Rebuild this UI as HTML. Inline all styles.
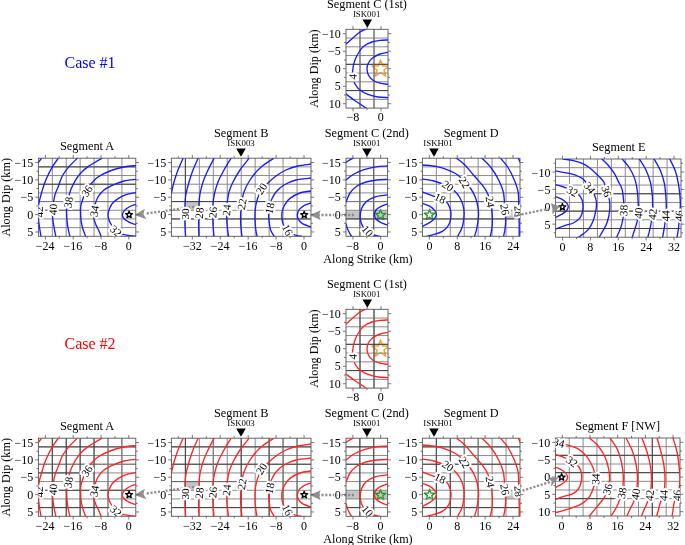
<!DOCTYPE html>
<html><head><meta charset="utf-8"><style>
html,body{margin:0;padding:0;background:#fff;}
svg{display:block;}
text{font-family:"Liberation Serif", serif;fill:#000;}
.tl{font-size:12px;paint-order:stroke;stroke:#fff;stroke-width:2.4px;stroke-linejoin:round;}
.tt{font-size:12.3px;}
.st{font-size:8.8px;}
.ax{font-size:12.2px;}
.case{font-size:16px;}
.cl{font-size:11.2px;paint-order:stroke;stroke:#fff;stroke-width:4.2px;stroke-linejoin:round;}
</style></head><body>
<svg width="685" height="545" viewBox="0 0 685 545">
<rect width="685" height="545" fill="#fff"/>
<path d="M194 206.8L146 213.6" stroke="#8f8f8f" stroke-width="2.3" stroke-dasharray="2.2 1.6" fill="none"/>
<path d="M134.6 215L144.8 208.8L143.4 213.9L146.4 219.2Z" fill="#8f8f8f"/>
<path d="M354 215H319" stroke="#8f8f8f" stroke-width="2.3" stroke-dasharray="2.2 1.6" fill="none"/>
<path d="M309.8 215.1L320.6 210.2L319 215.1L320.6 220Z" fill="#8f8f8f"/>
<path d="M194 486.8L146 493.6" stroke="#8f8f8f" stroke-width="2.3" stroke-dasharray="2.2 1.6" fill="none"/>
<path d="M134.6 495L144.8 488.8L143.4 493.9L146.4 499.2Z" fill="#8f8f8f"/>
<path d="M354 495H319" stroke="#8f8f8f" stroke-width="2.3" stroke-dasharray="2.2 1.6" fill="none"/>
<path d="M309.8 495.1L320.6 490.2L319 495.1L320.6 500Z" fill="#8f8f8f"/>
<clipPath id="cs0"><rect x="346" y="29.1" width="42" height="79"/></clipPath><g clip-path="url(#cs0)"><polygon points="380.5,59.9 382.62,65.99 389.06,66.12 383.92,70.01 385.79,76.18 380.5,72.5 375.21,76.18 377.08,70.01 371.94,66.12 378.38,65.99" fill="#fff" stroke="#f5a230" stroke-width="1.5" stroke-linejoin="round"/></g>
<path d="M360 29.3V108.1M374 29.3V108.1M346 38.06H388M346 46.81H388M346 55.57H388M346 64.32H388M346 73.08H388M346 81.83H388M346 90.59H388M346 99.34H388" stroke="#8a8a8a" stroke-width="1" fill="none"/>
<path d="M346 64.32H388" stroke="#404040" stroke-width="1"/>
<path d="M346 90.59H388" stroke="#404040" stroke-width="1"/>
<path d="M360 29.3V108.1" stroke="#666" stroke-width="1"/>
<path d="M374 29.3V108.1" stroke="#666" stroke-width="1"/>
<path d="M353 29.3v-3.2M353 108.1v3.2M367 29.3v-2M367 108.1v2M381 29.3v-3.2M381 108.1v3.2M346 33.68h-3.2M388 33.68h3.2M346 42.43h-2M388 42.43h2M346 51.19h-3.2M388 51.19h3.2M346 59.94h-2M388 59.94h2M346 68.7h-3.2M388 68.7h3.2M346 77.46h-2M388 77.46h2M346 86.21h-3.2M388 86.21h3.2M346 94.97h-2M388 94.97h2M346 103.72h-3.2M388 103.72h3.2" stroke="#555" stroke-width="0.8" fill="none"/>
<rect x="346" y="29.3" width="42" height="78.8" fill="none" stroke="#555" stroke-width="0.9"/>
<clipPath id="clipC10"><rect x="346" y="29.3" width="42" height="78.8"/></clipPath>
<g clip-path="url(#clipC10)">
<path d="M346 44C347.33 42.83 351.67 39 354 37C356.33 35 358 33.32 360 32C362 30.68 365 29.58 366 29.1M388 40C386.67 40.07 382.67 40.07 380 40.4C377.33 40.73 374.67 41.07 372 42C369.33 42.93 366.17 44.33 364 46C361.83 47.67 360.5 49.67 359 52C357.5 54.33 356 57.33 355 60C354 62.67 353.4 65.33 353 68C352.6 70.67 352.27 73.33 352.6 76C352.93 78.67 353.77 81.67 355 84C356.23 86.33 357.83 88.27 360 90C362.17 91.73 365 93.23 368 94.4C371 95.57 374.67 96.47 378 97C381.33 97.53 386.33 97.5 388 97.6M388 52.4C386.67 52.67 382.57 53.07 380 54C377.43 54.93 374.53 56.5 372.6 58C370.67 59.5 369.33 61.17 368.4 63C367.47 64.83 367 67 367 69C367 71 367.47 73.17 368.4 75C369.33 76.83 370.67 78.63 372.6 80C374.53 81.37 377.43 82.47 380 83.2C382.57 83.93 386.67 84.2 388 84.4M346 94C347.33 95 351.67 98.33 354 100C356.33 101.67 358 102.67 360 104C362 105.33 365 107.33 366 108" stroke="#1a1aff" stroke-width="1.35" fill="none" stroke-linecap="round"/>
<text class="cl" x="352.8" y="80.4" text-anchor="middle" transform="rotate(-85 352.8 76.6)">4</text>
</g>
<text x="352.88" y="120.7" text-anchor="middle" class="tl">−8</text>
<text x="380.8" y="120.7" text-anchor="middle" class="tl">0</text>
<text x="340.8" y="38.1" text-anchor="end" class="tl">−10</text>
<text x="340.8" y="55.45" text-anchor="end" class="tl">−5</text>
<text x="340.8" y="72.8" text-anchor="end" class="tl">0</text>
<text x="340.8" y="90.15" text-anchor="end" class="tl">5</text>
<text x="340.8" y="107.5" text-anchor="end" class="tl">10</text>
<text x="367" y="8" text-anchor="middle" class="tt">Segment C (1st)</text>
<text x="366.6" y="17.3" text-anchor="middle" class="st">ISK001</text>
<path d="M362.5 19.6h9.6l-4.8 8.1z" fill="#000"/>


<path d="M52.31 158.2V236.3M66.23 158.2V236.3M80.14 158.2V236.3M94.06 158.2V236.3M107.97 158.2V236.3M121.89 158.2V236.3M38.4 166.88H135.8M38.4 175.56H135.8M38.4 184.23H135.8M38.4 192.91H135.8M38.4 201.59H135.8M38.4 210.27H135.8M38.4 218.94H135.8M38.4 227.62H135.8" stroke="#8a8a8a" stroke-width="1" fill="none"/>
<path d="M38.4 166.88H135.8" stroke="#404040" stroke-width="1"/>
<path d="M38.4 184.23H135.8" stroke="#404040" stroke-width="1"/>
<path d="M38.4 201.59H135.8" stroke="#777" stroke-width="1"/>
<path d="M38.4 210.27H80" stroke="#666" stroke-width="1"/>
<path d="M45.36 158.2v-3.2M45.36 236.3v3.2M59.27 158.2v-2M59.27 236.3v2M73.19 158.2v-3.2M73.19 236.3v3.2M87.1 158.2v-2M87.1 236.3v2M101.01 158.2v-3.2M101.01 236.3v3.2M114.93 158.2v-2M114.93 236.3v2M128.84 158.2v-3.2M128.84 236.3v3.2M38.4 162.54h-3.2M135.8 162.54h3.2M38.4 171.22h-2M135.8 171.22h2M38.4 179.89h-3.2M135.8 179.89h3.2M38.4 188.57h-2M135.8 188.57h2M38.4 197.25h-3.2M135.8 197.25h3.2M38.4 205.93h-2M135.8 205.93h2M38.4 214.61h-3.2M135.8 214.61h3.2M38.4 223.28h-2M135.8 223.28h2M38.4 231.96h-3.2M135.8 231.96h3.2" stroke="#555" stroke-width="0.8" fill="none"/>
<rect x="38.4" y="158.2" width="97.4" height="78.1" fill="none" stroke="#555" stroke-width="0.9"/>
<clipPath id="clipA0"><rect x="38.4" y="158.2" width="97.4" height="78.1"/></clipPath>
<g clip-path="url(#clipA0)">
<path d="M135.8 204.4C135 204.67 132.63 205.23 131 206C129.37 206.77 127.33 207.92 126 209C124.67 210.08 123.6 211.5 123 212.5C122.4 213.5 122.33 214.08 122.4 215C122.47 215.92 122.63 217 123.4 218C124.17 219 125.57 220.1 127 221C128.43 221.9 130.53 222.8 132 223.4C133.47 224 135.17 224.4 135.8 224.6M135.8 192.6C134.17 192.93 128.97 193.6 126 194.6C123.03 195.6 120.33 197.03 118 198.6C115.67 200.17 113.5 202.1 112 204C110.5 205.9 109.67 208.17 109 210C108.33 211.83 108 213.33 108 215C108 216.67 108.5 218.5 109 220C109.5 221.5 110.17 222.67 111 224C111.83 225.33 112.83 226.67 114 228C115.17 229.33 116.5 230.93 118 232C119.5 233.07 121 233.8 123 234.4C125 235 127.83 235.28 130 235.6C132.17 235.92 135 236.18 136 236.3M135.8 179.4C133.83 179.67 127.63 180.13 124 181C120.37 181.87 117.33 183.1 114 184.6C110.67 186.1 106.67 187.93 104 190C101.33 192.07 99.5 194.5 98 197C96.5 199.5 95.67 202.17 95 205C94.33 207.83 94.17 211.67 94 214C93.83 216.33 93.67 217.17 94 219C94.33 220.83 95.17 223 96 225C96.83 227 98.17 229.12 99 231C99.83 232.88 100.67 235.42 101 236.3M135.8 165.6C133.83 165.83 128.3 166.1 124 167C119.7 167.9 114.33 169.33 110 171C105.67 172.67 101.33 174.67 98 177C94.67 179.33 92.1 182.5 90 185C87.9 187.5 86.55 189.78 85.4 192C84.25 194.22 83.87 195.97 83.1 198.3C82.33 200.63 81.22 203.72 80.8 206C80.38 208.28 80.57 209.7 80.6 212C80.63 214.3 80.67 217.13 81 219.8C81.33 222.47 81.83 225.25 82.6 228C83.37 230.75 85.1 234.92 85.6 236.3M102 158.2C100.67 159 96.33 161.6 94 163C91.67 164.4 90.23 164.9 88 166.6C85.77 168.3 82.65 171 80.6 173.2C78.55 175.4 77.22 177.33 75.7 179.8C74.18 182.27 72.53 185.67 71.5 188C70.47 190.33 70.15 191.47 69.5 193.8C68.85 196.13 68.08 199.3 67.6 202C67.12 204.7 66.7 207 66.6 210C66.5 213 66.77 217 67 220C67.23 223 67.52 225.28 68 228C68.48 230.72 69.58 234.92 69.9 236.3M77.3 158.3C75.92 159.68 71.48 163.7 69 166.6C66.52 169.5 64.18 172.4 62.4 175.7C60.62 179 59.53 183.23 58.3 186.4C57.07 189.57 55.78 192.1 55 194.7C54.22 197.3 53.97 199.45 53.6 202C53.23 204.55 52.97 207.5 52.8 210C52.63 212.5 52.4 214.17 52.6 217C52.8 219.83 53.47 223.78 54 227C54.53 230.22 55.5 234.75 55.8 236.3M58.3 158.3C57.33 159.68 54.57 163.02 52.5 166.6C50.43 170.18 47.82 175.12 45.9 179.8C43.98 184.48 42.17 190.78 41 194.7C39.83 198.62 39.4 200.58 38.9 203.3C38.4 206.02 38.07 208.38 38 211C37.93 213.62 38.23 216.17 38.5 219C38.77 221.83 39.18 225.12 39.6 228C40.02 230.88 40.77 234.92 41 236.3M38.5 162.4L41.4 158.3" stroke="#1a1aff" stroke-width="1.35" fill="none" stroke-linecap="round"/>
<text class="cl" x="116" y="234.8" text-anchor="middle" transform="rotate(40 116 231)">32</text>
<text class="cl" x="94.6" y="214.8" text-anchor="middle" transform="rotate(-80 94.6 211)">34</text>
<text class="cl" x="87" y="194.8" text-anchor="middle" transform="rotate(-55 87 191)">36</text>
<text class="cl" x="68.4" y="206.2" text-anchor="middle" transform="rotate(-80 68.4 202.4)">38</text>
<text class="cl" x="53.2" y="213.2" text-anchor="middle" transform="rotate(-88 53.2 209.4)">40</text>
<text class="cl" x="39.4" y="215.8" text-anchor="middle" transform="rotate(-90 39.4 212)">42</text>
</g>
<text x="45.04" y="250.4" text-anchor="middle" class="tl">−24</text>
<text x="72.96" y="250.4" text-anchor="middle" class="tl">−16</text>
<text x="100.88" y="250.4" text-anchor="middle" class="tl">−8</text>
<text x="128.8" y="250.4" text-anchor="middle" class="tl">0</text>
<text x="33.2" y="166.75" text-anchor="end" class="tl">−15</text>
<text x="33.2" y="184.1" text-anchor="end" class="tl">−10</text>
<text x="33.2" y="201.45" text-anchor="end" class="tl">−5</text>
<text x="33.2" y="218.8" text-anchor="end" class="tl">0</text>
<text x="33.2" y="236.15" text-anchor="end" class="tl">5</text>
<text x="87.1" y="150" text-anchor="middle" class="tt">Segment A</text>
<polygon points="129.1,211.1 129.98,213.49 132.52,213.59 130.53,215.16 131.22,217.61 129.1,216.2 126.98,217.61 127.67,215.16 125.68,213.59 128.22,213.49" fill="#fff" stroke="#000" stroke-width="1.35" stroke-linejoin="round"/>
<rect x="185.4" y="202" width="13.9" height="8.6" fill="#8a8a8a" fill-opacity="0.5"/>
<path d="M185.36 158.2V236.3M199.32 158.2V236.3M213.28 158.2V236.3M227.24 158.2V236.3M241.2 158.2V236.3M255.16 158.2V236.3M269.12 158.2V236.3M283.08 158.2V236.3M297.04 158.2V236.3M171.4 166.88H311M171.4 175.56H311M171.4 184.23H311M171.4 192.91H311M171.4 201.59H311M171.4 210.27H311M171.4 218.94H311M171.4 227.62H311" stroke="#8a8a8a" stroke-width="1" fill="none"/>
<path d="M185.36 158.4V202" stroke="#404040" stroke-width="1"/>
<path d="M171.4 201.59H265" stroke="#404040" stroke-width="1"/>
<path d="M171.4 218.94H311" stroke="#404040" stroke-width="1"/>
<path d="M178.38 158.2v-2M178.38 236.3v2M192.34 158.2v-3.2M192.34 236.3v3.2M206.3 158.2v-2M206.3 236.3v2M220.26 158.2v-3.2M220.26 236.3v3.2M234.22 158.2v-2M234.22 236.3v2M248.18 158.2v-3.2M248.18 236.3v3.2M262.14 158.2v-2M262.14 236.3v2M276.1 158.2v-3.2M276.1 236.3v3.2M290.06 158.2v-2M290.06 236.3v2M304.02 158.2v-3.2M304.02 236.3v3.2M171.4 162.54h-3.2M311 162.54h3.2M171.4 171.22h-2M311 171.22h2M171.4 179.89h-3.2M311 179.89h3.2M171.4 188.57h-2M311 188.57h2M171.4 197.25h-3.2M311 197.25h3.2M171.4 205.93h-2M311 205.93h2M171.4 214.61h-3.2M311 214.61h3.2M171.4 223.28h-2M311 223.28h2M171.4 231.96h-3.2M311 231.96h3.2" stroke="#555" stroke-width="0.8" fill="none"/>
<rect x="171.4" y="158.2" width="139.6" height="78.1" fill="none" stroke="#555" stroke-width="0.9"/>
<clipPath id="clipB0"><rect x="171.4" y="158.2" width="139.6" height="78.1"/></clipPath>
<g clip-path="url(#clipB0)">
<path d="M183 158.4C182.17 160.33 179.5 166.07 178 170C176.5 173.93 175.1 178.17 174 182C172.9 185.83 171.83 191.17 171.4 193M198 158.4C197.17 160.33 194.5 166.07 193 170C191.5 173.93 190.17 178 189 182C187.83 186 186.67 190.33 186 194C185.33 197.67 185.2 200.67 185 204C184.8 207.33 184.8 210.33 184.8 214C184.8 217.67 184.87 222.27 185 226C185.13 229.73 185.5 234.67 185.6 236.4M214 158.4C213 160.33 209.83 166.07 208 170C206.17 173.93 204.33 178 203 182C201.67 186 200.67 190.33 200 194C199.33 197.67 199.2 200.83 199 204C198.8 207.17 198.87 209.67 198.8 213C198.73 216.33 198.57 220.1 198.6 224C198.63 227.9 198.93 234.33 199 236.4M231 158.4C229.83 160.33 226.17 166.07 224 170C221.83 173.93 219.6 178 218 182C216.4 186 215.23 190.33 214.4 194C213.57 197.67 213.27 200.93 213 204C212.73 207.07 212.8 209.07 212.8 212.4C212.8 215.73 212.8 220 213 224C213.2 228 213.83 234.33 214 236.4M249 158.4C247.5 160.33 242.67 166.07 240 170C237.33 173.93 234.83 178.33 233 182C231.17 185.67 229.93 188.67 229 192C228.07 195.33 227.77 199 227.4 202C227.03 205 226.87 206.33 226.8 210C226.73 213.67 226.7 219.6 227 224C227.3 228.4 228.33 234.33 228.6 236.4M273.5 158.4C271.25 160 263.92 164.4 260 168C256.08 171.6 252.67 176 250 180C247.33 184 245.43 188 244 192C242.57 196 241.97 200 241.4 204C240.83 208 240.67 212 240.6 216C240.53 220 240.77 224.6 241 228C241.23 231.4 241.83 235 242 236.4M311 164C308.83 164.33 302.17 165 298 166C293.83 167 289.67 168.33 286 170C282.33 171.67 279.17 173.67 276 176C272.83 178.33 269.5 181.5 267 184C264.5 186.5 262.6 188.5 261 191C259.4 193.5 258.33 196.17 257.4 199C256.47 201.83 255.8 204.83 255.4 208C255 211.17 254.97 214.67 255 218C255.03 221.33 255.27 224.93 255.6 228C255.93 231.07 256.77 235 257 236.4M311 178C308.5 178.33 300.5 178.83 296 180C291.5 181.17 287.33 183 284 185C280.67 187 278.1 189.5 276 192C273.9 194.5 272.53 197.33 271.4 200C270.27 202.67 269.67 205.33 269.2 208C268.73 210.67 268.6 213.67 268.6 216C268.6 218.33 268.88 219.72 269.2 222C269.52 224.28 269.67 227.3 270.5 229.7C271.33 232.1 273.58 235.28 274.2 236.4M311 191C309.17 191.33 303.5 191.77 300 193C296.5 194.23 292.5 196.5 290 198.4C287.5 200.3 286.27 202.37 285 204.4C283.73 206.43 282.93 208.67 282.4 210.6C281.87 212.53 281.77 214.03 281.8 216C281.83 217.97 281.97 220.3 282.6 222.4C283.23 224.5 284.3 226.87 285.6 228.6C286.9 230.33 288.67 231.67 290.4 232.8C292.13 233.93 294.07 234.8 296 235.4C297.93 236 301 236.23 302 236.4M311 203C309.83 203.43 305.93 204.53 304 205.6C302.07 206.67 300.5 207.9 299.4 209.4C298.3 210.9 297.57 212.93 297.4 214.6C297.23 216.27 297.57 217.9 298.4 219.4C299.23 220.9 300.3 222.33 302.4 223.6C304.5 224.87 309.57 226.43 311 227" stroke="#1a1aff" stroke-width="1.35" fill="none" stroke-linecap="round"/>
<text class="cl" x="185" y="217.8" text-anchor="middle" transform="rotate(-90 185 214)">30</text>
<text class="cl" x="199.4" y="216.8" text-anchor="middle" transform="rotate(-85 199.4 213)">28</text>
<text class="cl" x="213" y="216.2" text-anchor="middle" transform="rotate(-85 213 212.4)">26</text>
<text class="cl" x="226.6" y="213.8" text-anchor="middle" transform="rotate(-85 226.6 210)">24</text>
<text class="cl" x="242" y="207.8" text-anchor="middle" transform="rotate(-80 242 204)">22</text>
<text class="cl" x="261.6" y="192.6" text-anchor="middle" transform="rotate(-58 261.6 188.8)">20</text>
<text class="cl" x="269.8" y="212.1" text-anchor="middle" transform="rotate(-78 269.8 208.3)">18</text>
<text class="cl" x="287.4" y="233.8" text-anchor="middle" transform="rotate(62 287.4 230)">16</text>
</g>
<text x="192.32" y="250.4" text-anchor="middle" class="tl">−32</text>
<text x="220.24" y="250.4" text-anchor="middle" class="tl">−24</text>
<text x="248.16" y="250.4" text-anchor="middle" class="tl">−16</text>
<text x="276.08" y="250.4" text-anchor="middle" class="tl">−8</text>
<text x="304" y="250.4" text-anchor="middle" class="tl">0</text>
<text x="166.2" y="166.75" text-anchor="end" class="tl">−15</text>
<text x="166.2" y="184.1" text-anchor="end" class="tl">−10</text>
<text x="166.2" y="201.45" text-anchor="end" class="tl">−5</text>
<text x="166.2" y="218.8" text-anchor="end" class="tl">0</text>
<text x="166.2" y="236.15" text-anchor="end" class="tl">5</text>
<text x="241.2" y="137" text-anchor="middle" class="tt">Segment B</text>
<text x="241" y="146.3" text-anchor="middle" class="st">ISK003</text>
<path d="M236.2 148.6h9.6l-4.8 8.1z" fill="#000"/>
<polygon points="304.2,211.3 305.08,213.69 307.62,213.79 305.63,215.36 306.32,217.81 304.2,216.4 302.08,217.81 302.77,215.36 300.78,213.79 303.32,213.69" fill="#fff" stroke="#000" stroke-width="1.35" stroke-linejoin="round"/>
<rect x="346" y="210.3" width="13.9" height="8.7" fill="#8a8a8a" fill-opacity="0.5"/>
<rect x="373.8" y="210.3" width="13.8" height="8.7" fill="#8a8a8a" fill-opacity="0.5"/><polygon points="380.5,209.4 381.85,213.24 385.92,213.34 382.69,215.81 383.85,219.71 380.5,217.4 377.15,219.71 378.31,215.81 375.08,213.34 379.15,213.24" fill="none" stroke="#1e9a1e" stroke-width="1.3" stroke-linejoin="round"/>
<path d="M359.87 158.2V236.3M373.73 158.2V236.3M346 166.88H387.6M346 175.56H387.6M346 184.23H387.6M346 192.91H387.6M346 201.59H387.6M346 210.27H387.6M346 218.94H387.6M346 227.62H387.6" stroke="#8a8a8a" stroke-width="1" fill="none"/>
<path d="M359.87 158.2V236.3" stroke="#555" stroke-width="1"/>
<path d="M373.73 158.2V236.3" stroke="#555" stroke-width="1"/>
<path d="M346 218.94H387.6" stroke="#404040" stroke-width="1"/>
<path d="M346 201.59H387.6" stroke="#777" stroke-width="1"/>
<path d="M352.93 158.2v-3.2M352.93 236.3v3.2M366.8 158.2v-2M366.8 236.3v2M380.67 158.2v-3.2M380.67 236.3v3.2M346 162.54h-3.2M387.6 162.54h3.2M346 171.22h-2M387.6 171.22h2M346 179.89h-3.2M387.6 179.89h3.2M346 188.57h-2M387.6 188.57h2M346 197.25h-3.2M387.6 197.25h3.2M346 205.93h-2M387.6 205.93h2M346 214.61h-3.2M387.6 214.61h3.2M346 223.28h-2M387.6 223.28h2M346 231.96h-3.2M387.6 231.96h3.2" stroke="#555" stroke-width="0.8" fill="none"/>
<rect x="346" y="158.2" width="41.6" height="78.1" fill="none" stroke="#555" stroke-width="0.9"/>
<clipPath id="clipC20"><rect x="346" y="158.2" width="41.6" height="78.1"/></clipPath>
<g clip-path="url(#clipC20)">
<path d="M346 162.4C346.5 162.07 347.83 161.07 349 160.4C350.17 159.73 352.33 158.73 353 158.4M346 180C347.33 179 351 175.73 354 174C357 172.27 360.33 170.8 364 169.6C367.67 168.4 372.07 167.4 376 166.8C379.93 166.2 385.67 166.13 387.6 166M346 202C346.67 200.5 348.17 195.67 350 193C351.83 190.33 354.33 187.83 357 186C359.67 184.17 362.67 183 366 182C369.33 181 373.4 180.43 377 180C380.6 179.57 385.83 179.5 387.6 179.4M346 224C346.33 225 347.08 227.93 348 230C348.92 232.07 350.92 235.33 351.5 236.4M387.6 194.8C385.67 195.1 379.43 195.57 376 196.6C372.57 197.63 369.37 199.1 367 201C364.63 202.9 362.93 205.43 361.8 208C360.67 210.57 360.27 213.83 360.2 216.4C360.13 218.97 360.6 221.22 361.4 223.4C362.2 225.58 363.23 227.67 365 229.5C366.77 231.33 369.5 233.25 372 234.4C374.5 235.55 378.67 236.07 380 236.4M387.6 204C386.43 204.43 382.53 205.6 380.6 206.6C378.67 207.6 377.03 208.7 376 210C374.97 211.3 374.4 212.9 374.4 214.4C374.4 215.9 374.97 217.67 376 219C377.03 220.33 378.67 221.37 380.6 222.4C382.53 223.43 386.43 224.73 387.6 225.2" stroke="#1a1aff" stroke-width="1.35" fill="none" stroke-linecap="round"/>
<text class="cl" x="367.4" y="234.8" text-anchor="middle" transform="rotate(50 367.4 231)">10</text>
</g>
<text x="352.68" y="250.4" text-anchor="middle" class="tl">−8</text>
<text x="380.6" y="250.4" text-anchor="middle" class="tl">0</text>
<text x="340.8" y="166.75" text-anchor="end" class="tl">−15</text>
<text x="340.8" y="184.1" text-anchor="end" class="tl">−10</text>
<text x="340.8" y="201.45" text-anchor="end" class="tl">−5</text>
<text x="340.8" y="218.8" text-anchor="end" class="tl">0</text>
<text x="340.8" y="236.15" text-anchor="end" class="tl">5</text>
<text x="366.8" y="137" text-anchor="middle" class="tt">Segment C (2nd)</text>
<text x="366.6" y="146.3" text-anchor="middle" class="st">ISK001</text>
<path d="M362.2 148.6h9.6l-4.8 8.1z" fill="#000"/>

<rect x="506.1" y="210.3" width="13.9" height="8.7" fill="#8a8a8a" fill-opacity="0.5"/><polygon points="429.6,209.2 430.95,213.04 435.02,213.14 431.79,215.61 432.95,219.51 429.6,217.2 426.25,219.51 427.41,215.61 424.18,213.14 428.25,213.04" fill="#fff" stroke="#1e9a1e" stroke-width="1.3" stroke-linejoin="round"/>
<path d="M436.34 158.2V236.3M450.29 158.2V236.3M464.23 158.2V236.3M478.17 158.2V236.3M492.11 158.2V236.3M506.06 158.2V236.3M422.4 166.88H520M422.4 175.56H520M422.4 184.23H520M422.4 192.91H520M422.4 201.59H520M422.4 210.27H520M422.4 218.94H520M422.4 227.62H520" stroke="#8a8a8a" stroke-width="1" fill="none"/>
<path d="M422.4 218.94H514" stroke="#404040" stroke-width="1"/>
<path d="M446 201.59H520" stroke="#555" stroke-width="1"/>
<path d="M429.37 158.2v-3.2M429.37 236.3v3.2M443.31 158.2v-2M443.31 236.3v2M457.26 158.2v-3.2M457.26 236.3v3.2M471.2 158.2v-2M471.2 236.3v2M485.14 158.2v-3.2M485.14 236.3v3.2M499.09 158.2v-2M499.09 236.3v2M513.03 158.2v-3.2M513.03 236.3v3.2M422.4 162.54h-3.2M520 162.54h3.2M422.4 171.22h-2M520 171.22h2M422.4 179.89h-3.2M520 179.89h3.2M422.4 188.57h-2M520 188.57h2M422.4 197.25h-3.2M520 197.25h3.2M422.4 205.93h-2M520 205.93h2M422.4 214.61h-3.2M520 214.61h3.2M422.4 223.28h-2M520 223.28h2M422.4 231.96h-3.2M520 231.96h3.2" stroke="#555" stroke-width="0.8" fill="none"/>
<rect x="422.4" y="158.2" width="97.6" height="78.1" fill="none" stroke="#555" stroke-width="0.9"/>
<clipPath id="clipD0"><rect x="422.4" y="158.2" width="97.6" height="78.1"/></clipPath>
<g clip-path="url(#clipD0)">
<path d="M422.4 203.4C423.67 203.9 427.97 205.23 430 206.4C432.03 207.57 433.53 209.1 434.6 210.4C435.67 211.7 436.4 212.87 436.4 214.2C436.4 215.53 435.67 217.03 434.6 218.4C433.53 219.77 432.03 221.07 430 222.4C427.97 223.73 423.67 225.73 422.4 226.4M422.4 192C423.67 192.47 427.23 193.73 430 194.8C432.77 195.87 436.27 197.2 439 198.4C441.73 199.6 444.62 200.5 446.4 202C448.18 203.5 448.93 205.4 449.7 207.4C450.47 209.4 450.93 211.67 451 214C451.07 216.33 450.73 219.2 450.1 221.4C449.47 223.6 448.5 225.55 447.2 227.2C445.9 228.85 444.35 230.13 442.3 231.3C440.25 232.47 437.52 233.37 434.9 234.2C432.28 235.03 429.08 235.75 426.6 236.3C424.12 236.85 421.1 237.3 420 237.5M422.4 179C424.33 179.33 429.9 179.83 434 181C438.1 182.17 443.5 184.25 447 186C450.5 187.75 452.93 189.67 455 191.5C457.07 193.33 458.08 194.77 459.4 197C460.72 199.23 462.12 202.2 462.9 204.9C463.68 207.6 464.1 209.9 464.1 213.2C464.1 216.5 463.52 221.68 462.9 224.7C462.28 227.72 461.3 229.32 460.4 231.3C459.5 233.28 457.98 235.72 457.5 236.6M422.4 165C424.83 165.27 432.48 165.67 437 166.6C441.52 167.53 445.97 169.15 449.5 170.6C453.03 172.05 455.7 173.33 458.2 175.3C460.7 177.27 462.43 180.2 464.5 182.4C466.57 184.6 468.8 186.05 470.6 188.5C472.4 190.95 474.05 193.85 475.3 197.1C476.55 200.35 477.58 204.62 478.1 208C478.62 211.38 478.62 214.02 478.4 217.4C478.18 220.78 477.45 225.1 476.8 228.3C476.15 231.5 474.88 235.22 474.5 236.6M455 157.3C456.57 158.48 461.28 161.4 464.4 164.4C467.52 167.4 470.58 171.67 473.7 175.3C476.82 178.93 480.75 183.08 483.1 186.2C485.45 189.32 486.63 191.4 487.8 194C488.97 196.6 489.45 199.2 490.1 201.8C490.75 204.4 491.32 206.48 491.7 209.6C492.08 212.72 492.4 217.12 492.4 220.5C492.4 223.88 492.08 227.22 491.7 229.9C491.32 232.58 490.37 235.48 490.1 236.6M481.5 157.8C483.07 159.42 488.03 163.8 490.9 167.5C493.77 171.2 496.62 175.85 498.7 180C500.78 184.15 502.37 187.47 503.4 192.4C504.43 197.33 504.52 204.92 504.9 209.6C505.28 214.28 505.7 217.12 505.7 220.5C505.7 223.88 505.28 227.17 504.9 229.9C504.52 232.63 503.65 235.73 503.4 236.9M500.2 157.8C501.5 159.42 505.65 163.8 508 167.5C510.35 171.2 512.6 175.85 514.3 180C516 184.15 517.45 187.2 518.2 192.4C518.95 197.6 518.63 206 518.8 211.2C518.97 216.4 519.13 219.37 519.2 223.6C519.27 227.83 519.2 234.43 519.2 236.6M518.2 158.1L520.5 162.8" stroke="#1a1aff" stroke-width="1.35" fill="none" stroke-linecap="round"/>
<text class="cl" x="440.2" y="202.1" text-anchor="middle" transform="rotate(25 440.2 198.3)">18</text>
<text class="cl" x="448" y="189.8" text-anchor="middle" transform="rotate(35 448 186)">20</text>
<text class="cl" x="464.4" y="186.4" text-anchor="middle" transform="rotate(58 464.4 182.6)">22</text>
<text class="cl" x="490.1" y="205.6" text-anchor="middle" transform="rotate(80 490.1 201.8)">24</text>
<text class="cl" x="504.9" y="213.4" text-anchor="middle" transform="rotate(82 504.9 209.6)">26</text>
<text class="cl" x="518.4" y="215" text-anchor="middle" transform="rotate(85 518.4 211.2)">28</text>
</g>
<text x="429.4" y="250.4" text-anchor="middle" class="tl">0</text>
<text x="457.32" y="250.4" text-anchor="middle" class="tl">8</text>
<text x="485.24" y="250.4" text-anchor="middle" class="tl">16</text>
<text x="513.16" y="250.4" text-anchor="middle" class="tl">24</text>
<text x="417.2" y="166.75" text-anchor="end" class="tl">−15</text>
<text x="417.2" y="184.1" text-anchor="end" class="tl">−10</text>
<text x="417.2" y="201.45" text-anchor="end" class="tl">−5</text>
<text x="417.2" y="218.8" text-anchor="end" class="tl">0</text>
<text x="417.2" y="236.15" text-anchor="end" class="tl">5</text>
<text x="471.2" y="137" text-anchor="middle" class="tt">Segment D</text>
<text x="438" y="146.3" text-anchor="middle" class="st">ISKH01</text>
<path d="M429.2 148.6h9.6l-4.8 8.1z" fill="#000"/>


<path d="M569.53 159V237.2M583.47 159V237.2M597.4 159V237.2M611.33 159V237.2M625.27 159V237.2M639.2 159V237.2M653.13 159V237.2M667.07 159V237.2M555.6 167.69H681M555.6 176.38H681M555.6 185.07H681M555.6 193.76H681M555.6 202.44H681M555.6 211.13H681M555.6 219.82H681M555.6 228.51H681" stroke="#8a8a8a" stroke-width="1" fill="none"/>
<path d="M591 193.76H681" stroke="#404040" stroke-width="1"/>
<path d="M555.6 211.13H681" stroke="#404040" stroke-width="1"/>
<path d="M555.6 228.51H681" stroke="#404040" stroke-width="1"/>
<path d="M562.57 159v-3.2M562.57 237.2v3.2M576.5 159v-2M576.5 237.2v2M590.43 159v-3.2M590.43 237.2v3.2M604.37 159v-2M604.37 237.2v2M618.3 159v-3.2M618.3 237.2v3.2M632.23 159v-2M632.23 237.2v2M646.17 159v-3.2M646.17 237.2v3.2M660.1 159v-2M660.1 237.2v2M674.03 159v-3.2M674.03 237.2v3.2M555.6 163.34h-2M681 163.34h2M555.6 172.03h-3.2M681 172.03h3.2M555.6 180.72h-2M681 180.72h2M555.6 189.41h-3.2M681 189.41h3.2M555.6 198.1h-2M681 198.1h2M555.6 206.79h-3.2M681 206.79h3.2M555.6 215.48h-2M681 215.48h2M555.6 224.17h-3.2M681 224.17h3.2M555.6 232.86h-2M681 232.86h2" stroke="#555" stroke-width="0.8" fill="none"/>
<rect x="555.6" y="159" width="125.4" height="78.2" fill="none" stroke="#555" stroke-width="0.9"/>
<clipPath id="clipE0"><rect x="555.6" y="159" width="125.4" height="78.2"/></clipPath>
<g clip-path="url(#clipE0)">
<path d="M555.6 196.6C556.67 197.07 560.2 198.37 562 199.4C563.8 200.43 565.35 201.6 566.4 202.8C567.45 204 568.3 205.27 568.3 206.6C568.3 207.93 567.45 209.53 566.4 210.8C565.35 212.07 563.8 213.1 562 214.2C560.2 215.3 556.67 216.87 555.6 217.4M555.6 184.6C557.22 185.12 562.5 186.58 565.3 187.7C568.1 188.82 570.03 190.02 572.4 191.3C574.77 192.58 577.83 193.78 579.5 195.4C581.17 197.02 581.82 199.07 582.4 201C582.98 202.93 583.05 204.95 583 207C582.95 209.05 582.67 211.4 582.1 213.3C581.53 215.2 581.05 216.78 579.6 218.4C578.15 220.02 575.78 221.83 573.4 223C571.02 224.17 568.27 224.38 565.3 225.4C562.33 226.42 557.22 228.48 555.6 229.1M555.6 170.8C556.87 171.07 560.57 171.88 563.2 172.4C565.83 172.92 568.85 173.22 571.4 173.9C573.95 174.58 576.47 175.57 578.5 176.5C580.53 177.43 581.73 177.62 583.6 179.5C585.47 181.38 587.9 185.22 589.7 187.8C591.5 190.38 593.28 192.63 594.4 195C595.52 197.37 596.15 199.47 596.4 202C596.65 204.53 596.42 207.13 595.9 210.2C595.38 213.27 594.58 217.17 593.3 220.4C592.02 223.63 590.32 227.03 588.2 229.6C586.08 232.17 582.47 234.43 580.6 235.8C578.73 237.17 577.6 237.47 577 237.8M563.2 159C564.9 159.27 570.33 159.9 573.4 160.6C576.47 161.3 579.03 162.08 581.6 163.2C584.17 164.32 586.42 165.6 588.8 167.3C591.18 169 593.87 171.53 595.9 173.4C597.93 175.27 599.63 176.97 601 178.5C602.37 180.03 603.17 180.47 604.1 182.6C605.03 184.73 605.72 188.4 606.6 191.3C607.48 194.2 608.88 196.85 609.4 200C609.92 203.15 610.08 206.45 609.7 210.2C609.32 213.95 608.22 219.1 607.1 222.5C605.98 225.9 604.27 228.22 603 230.6C601.73 232.98 600.17 235.6 599.5 236.8C598.83 238 599.08 237.63 599 237.8M602 159.1C603.03 160.12 606.15 162.82 608.2 165.2C610.25 167.58 612.6 170.67 614.3 173.4C616 176.13 617.1 178.95 618.4 181.6C619.7 184.25 621.22 185.93 622.1 189.3C622.98 192.67 623.4 198.28 623.7 201.8C624 205.32 624.03 207.53 623.9 210.4C623.77 213.27 623.45 216.02 622.9 219C622.35 221.98 621.63 225.32 620.6 228.3C619.57 231.28 617.4 235.32 616.7 236.9C616 238.48 616.45 237.65 616.4 237.8M622.1 158.9C623.28 160.33 627.12 164.25 629.2 167.5C631.28 170.75 633.25 174.5 634.6 178.4C635.95 182.3 636.7 186.73 637.3 190.9C637.9 195.07 638 199.77 638.2 203.4C638.4 207.03 638.7 209.58 638.5 212.7C638.3 215.82 637.65 219.23 637 222.1C636.35 224.97 635.38 227.43 634.6 229.9C633.82 232.37 632.73 235.58 632.3 236.9C631.87 238.22 632.05 237.65 632 237.8M639.3 158.9C640.33 160.58 643.68 165.23 645.5 169C647.32 172.77 649.08 177.33 650.2 181.5C651.32 185.67 651.8 190.1 652.2 194C652.6 197.9 652.53 201.52 652.6 204.9C652.67 208.28 652.87 211.18 652.6 214.3C652.33 217.42 651.53 220.75 651 223.6C650.47 226.45 649.92 229.18 649.4 231.4C648.88 233.62 648.18 235.83 647.9 236.9C647.62 237.97 647.73 237.65 647.7 237.8M654.1 158.9C655.15 160.85 658.7 166.57 660.4 170.6C662.1 174.63 663.4 178.93 664.3 183.1C665.2 187.27 665.47 191.7 665.8 195.6C666.13 199.5 666.3 203.13 666.3 206.5C666.3 209.87 666.07 212.68 665.8 215.8C665.53 218.92 665.22 221.68 664.7 225.2C664.18 228.72 663.07 234.8 662.7 236.9C662.33 239 662.53 237.65 662.5 237.8M669.7 158.9C670.62 160.85 673.77 166.57 675.2 170.6C676.63 174.63 677.52 178.93 678.3 183.1C679.08 187.27 679.57 191.7 679.9 195.6C680.23 199.5 680.43 203.13 680.3 206.5C680.17 209.87 679.35 212.68 679.1 215.8C678.85 218.92 679.12 221.68 678.8 225.2C678.48 228.72 677.5 234.8 677.2 236.9C676.9 239 677.03 237.65 677 237.8" stroke="#1a1aff" stroke-width="1.35" fill="none" stroke-linecap="round"/>
<text class="cl" x="572.4" y="195.1" text-anchor="middle" transform="rotate(28 572.4 191.3)">32</text>
<text class="cl" x="589.7" y="191.6" text-anchor="middle" transform="rotate(52 589.7 187.8)">34</text>
<text class="cl" x="606.6" y="195.1" text-anchor="middle" transform="rotate(72 606.6 191.3)">36</text>
<text class="cl" x="623.7" y="214.2" text-anchor="middle" transform="rotate(-88 623.7 210.4)">38</text>
<text class="cl" x="638.5" y="217" text-anchor="middle" transform="rotate(-86 638.5 213.2)">40</text>
<text class="cl" x="652.6" y="218.1" text-anchor="middle" transform="rotate(-87 652.6 214.3)">42</text>
<text class="cl" x="665.8" y="219.6" text-anchor="middle" transform="rotate(-88 665.8 215.8)">44</text>
<text class="cl" x="679.1" y="219.6" text-anchor="middle" transform="rotate(-88 679.1 215.8)">46</text>
</g>
<text x="562.4" y="251.3" text-anchor="middle" class="tl">0</text>
<text x="590.32" y="251.3" text-anchor="middle" class="tl">8</text>
<text x="618.24" y="251.3" text-anchor="middle" class="tl">16</text>
<text x="646.16" y="251.3" text-anchor="middle" class="tl">24</text>
<text x="674.08" y="251.3" text-anchor="middle" class="tl">32</text>
<text x="550.4" y="176.5" text-anchor="end" class="tl">−10</text>
<text x="550.4" y="193.85" text-anchor="end" class="tl">−5</text>
<text x="550.4" y="211.2" text-anchor="end" class="tl">0</text>
<text x="550.4" y="228.55" text-anchor="end" class="tl">5</text>
<text x="618.8" y="150.6" text-anchor="middle" class="tt">Segment E</text>
<polygon points="562.4,203.5 563.28,205.89 565.82,205.99 563.83,207.56 564.52,210.01 562.4,208.6 560.28,210.01 560.97,207.56 558.98,205.99 561.52,205.89" fill="#fff" stroke="#000" stroke-width="1.35" stroke-linejoin="round"/>
<clipPath id="cs280"><rect x="346" y="309.1" width="42" height="79"/></clipPath><g clip-path="url(#cs280)"><polygon points="380.5,339.9 382.62,345.99 389.06,346.12 383.92,350.01 385.79,356.18 380.5,352.5 375.21,356.18 377.08,350.01 371.94,346.12 378.38,345.99" fill="#fff" stroke="#f5a230" stroke-width="1.5" stroke-linejoin="round"/></g>
<path d="M360 309.3V388.1M374 309.3V388.1M346 318.06H388M346 326.81H388M346 335.57H388M346 344.32H388M346 353.08H388M346 361.83H388M346 370.59H388M346 379.34H388" stroke="#8a8a8a" stroke-width="1" fill="none"/>
<path d="M346 344.32H388" stroke="#404040" stroke-width="1"/>
<path d="M346 370.59H388" stroke="#404040" stroke-width="1"/>
<path d="M360 309.3V388.1" stroke="#404040" stroke-width="1"/>
<path d="M374 309.3V388.1" stroke="#404040" stroke-width="1"/>
<path d="M353 309.3v-3.2M353 388.1v3.2M367 309.3v-2M367 388.1v2M381 309.3v-3.2M381 388.1v3.2M346 313.68h-3.2M388 313.68h3.2M346 322.43h-2M388 322.43h2M346 331.19h-3.2M388 331.19h3.2M346 339.94h-2M388 339.94h2M346 348.7h-3.2M388 348.7h3.2M346 357.46h-2M388 357.46h2M346 366.21h-3.2M388 366.21h3.2M346 374.97h-2M388 374.97h2M346 383.72h-3.2M388 383.72h3.2" stroke="#555" stroke-width="0.8" fill="none"/>
<rect x="346" y="309.3" width="42" height="78.8" fill="none" stroke="#555" stroke-width="0.9"/>
<clipPath id="clipC1280"><rect x="346" y="309.3" width="42" height="78.8"/></clipPath>
<g clip-path="url(#clipC1280)">
<path d="M346 324C347.33 322.83 351.67 319 354 317C356.33 315 358 313.32 360 312C362 310.68 365 309.58 366 309.1M388 320C386.67 320.07 382.67 320.07 380 320.4C377.33 320.73 374.67 321.07 372 322C369.33 322.93 366.17 324.33 364 326C361.83 327.67 360.5 329.67 359 332C357.5 334.33 356 337.33 355 340C354 342.67 353.4 345.33 353 348C352.6 350.67 352.27 353.33 352.6 356C352.93 358.67 353.77 361.67 355 364C356.23 366.33 357.83 368.27 360 370C362.17 371.73 365 373.23 368 374.4C371 375.57 374.67 376.47 378 377C381.33 377.53 386.33 377.5 388 377.6M388 332.4C386.67 332.67 382.57 333.07 380 334C377.43 334.93 374.53 336.5 372.6 338C370.67 339.5 369.33 341.17 368.4 343C367.47 344.83 367 347 367 349C367 351 367.47 353.17 368.4 355C369.33 356.83 370.67 358.63 372.6 360C374.53 361.37 377.43 362.47 380 363.2C382.57 363.93 386.67 364.2 388 364.4M346 374C347.33 375 351.67 378.33 354 380C356.33 381.67 358 382.67 360 384C362 385.33 365 387.33 366 388" stroke="#ff2424" stroke-width="1.35" fill="none" stroke-linecap="round"/>
<text class="cl" x="352.8" y="360.4" text-anchor="middle" transform="rotate(-85 352.8 356.6)">4</text>
</g>
<text x="352.88" y="400.7" text-anchor="middle" class="tl">−8</text>
<text x="380.8" y="400.7" text-anchor="middle" class="tl">0</text>
<text x="340.8" y="318.1" text-anchor="end" class="tl">−10</text>
<text x="340.8" y="335.45" text-anchor="end" class="tl">−5</text>
<text x="340.8" y="352.8" text-anchor="end" class="tl">0</text>
<text x="340.8" y="370.15" text-anchor="end" class="tl">5</text>
<text x="340.8" y="387.5" text-anchor="end" class="tl">10</text>
<text x="367" y="288" text-anchor="middle" class="tt">Segment C (1st)</text>
<text x="366.6" y="297.3" text-anchor="middle" class="st">ISK001</text>
<path d="M362.5 299.6h9.6l-4.8 8.1z" fill="#000"/>


<path d="M52.31 438.2V516.3M66.23 438.2V516.3M80.14 438.2V516.3M94.06 438.2V516.3M107.97 438.2V516.3M121.89 438.2V516.3M38.4 446.88H135.8M38.4 455.56H135.8M38.4 464.23H135.8M38.4 472.91H135.8M38.4 481.59H135.8M38.4 490.27H135.8M38.4 498.94H135.8M38.4 507.62H135.8" stroke="#8a8a8a" stroke-width="1" fill="none"/>
<path d="M38.4 446.88H135.8" stroke="#404040" stroke-width="1"/>
<path d="M38.4 464.23H135.8" stroke="#777" stroke-width="1"/>
<path d="M38.4 472.91H80" stroke="#404040" stroke-width="1"/>
<path d="M38.4 490.27H135.8" stroke="#404040" stroke-width="1"/>
<path d="M38.4 507.62H122" stroke="#404040" stroke-width="1"/>
<path d="M52.31 438.2V516.3" stroke="#404040" stroke-width="1"/>
<path d="M66.23 438.2V516.3" stroke="#404040" stroke-width="1"/>
<path d="M80.14 438.2V516.3" stroke="#404040" stroke-width="1"/>
<path d="M94.06 438.2V516.3" stroke="#404040" stroke-width="1"/>
<path d="M107.97 438.2V516.3" stroke="#777" stroke-width="1"/>
<path d="M121.89 438.2V516.3" stroke="#777" stroke-width="1"/>
<path d="M45.36 438.2v-3.2M45.36 516.3v3.2M59.27 438.2v-2M59.27 516.3v2M73.19 438.2v-3.2M73.19 516.3v3.2M87.1 438.2v-2M87.1 516.3v2M101.01 438.2v-3.2M101.01 516.3v3.2M114.93 438.2v-2M114.93 516.3v2M128.84 438.2v-3.2M128.84 516.3v3.2M38.4 442.54h-3.2M135.8 442.54h3.2M38.4 451.22h-2M135.8 451.22h2M38.4 459.89h-3.2M135.8 459.89h3.2M38.4 468.57h-2M135.8 468.57h2M38.4 477.25h-3.2M135.8 477.25h3.2M38.4 485.93h-2M135.8 485.93h2M38.4 494.61h-3.2M135.8 494.61h3.2M38.4 503.28h-2M135.8 503.28h2M38.4 511.96h-3.2M135.8 511.96h3.2" stroke="#555" stroke-width="0.8" fill="none"/>
<rect x="38.4" y="438.2" width="97.4" height="78.1" fill="none" stroke="#555" stroke-width="0.9"/>
<clipPath id="clipA280"><rect x="38.4" y="438.2" width="97.4" height="78.1"/></clipPath>
<g clip-path="url(#clipA280)">
<path d="M135.8 484.4C135 484.67 132.63 485.23 131 486C129.37 486.77 127.33 487.92 126 489C124.67 490.08 123.6 491.5 123 492.5C122.4 493.5 122.33 494.08 122.4 495C122.47 495.92 122.63 497 123.4 498C124.17 499 125.57 500.1 127 501C128.43 501.9 130.53 502.8 132 503.4C133.47 504 135.17 504.4 135.8 504.6M135.8 472.6C134.17 472.93 128.97 473.6 126 474.6C123.03 475.6 120.33 477.03 118 478.6C115.67 480.17 113.5 482.1 112 484C110.5 485.9 109.67 488.17 109 490C108.33 491.83 108 493.33 108 495C108 496.67 108.5 498.5 109 500C109.5 501.5 110.17 502.67 111 504C111.83 505.33 112.83 506.67 114 508C115.17 509.33 116.5 510.93 118 512C119.5 513.07 121 513.8 123 514.4C125 515 127.83 515.28 130 515.6C132.17 515.92 135 516.18 136 516.3M135.8 459.4C133.83 459.67 127.63 460.13 124 461C120.37 461.87 117.33 463.1 114 464.6C110.67 466.1 106.67 467.93 104 470C101.33 472.07 99.5 474.5 98 477C96.5 479.5 95.67 482.17 95 485C94.33 487.83 94.17 491.67 94 494C93.83 496.33 93.67 497.17 94 499C94.33 500.83 95.17 503 96 505C96.83 507 98.17 509.12 99 511C99.83 512.88 100.67 515.42 101 516.3M135.8 445.6C133.83 445.83 128.3 446.1 124 447C119.7 447.9 114.33 449.33 110 451C105.67 452.67 101.33 454.67 98 457C94.67 459.33 92.1 462.5 90 465C87.9 467.5 86.55 469.78 85.4 472C84.25 474.22 83.87 475.97 83.1 478.3C82.33 480.63 81.22 483.72 80.8 486C80.38 488.28 80.57 489.7 80.6 492C80.63 494.3 80.67 497.13 81 499.8C81.33 502.47 81.83 505.25 82.6 508C83.37 510.75 85.1 514.92 85.6 516.3M102 438.2C100.67 439 96.33 441.6 94 443C91.67 444.4 90.23 444.9 88 446.6C85.77 448.3 82.65 451 80.6 453.2C78.55 455.4 77.22 457.33 75.7 459.8C74.18 462.27 72.53 465.67 71.5 468C70.47 470.33 70.15 471.47 69.5 473.8C68.85 476.13 68.08 479.3 67.6 482C67.12 484.7 66.7 487 66.6 490C66.5 493 66.77 497 67 500C67.23 503 67.52 505.28 68 508C68.48 510.72 69.58 514.92 69.9 516.3M77.3 438.3C75.92 439.68 71.48 443.7 69 446.6C66.52 449.5 64.18 452.4 62.4 455.7C60.62 459 59.53 463.23 58.3 466.4C57.07 469.57 55.78 472.1 55 474.7C54.22 477.3 53.97 479.45 53.6 482C53.23 484.55 52.97 487.5 52.8 490C52.63 492.5 52.4 494.17 52.6 497C52.8 499.83 53.47 503.78 54 507C54.53 510.22 55.5 514.75 55.8 516.3M58.3 438.3C57.33 439.68 54.57 443.02 52.5 446.6C50.43 450.18 47.82 455.12 45.9 459.8C43.98 464.48 42.17 470.78 41 474.7C39.83 478.62 39.4 480.58 38.9 483.3C38.4 486.02 38.07 488.38 38 491C37.93 493.62 38.23 496.17 38.5 499C38.77 501.83 39.18 505.12 39.6 508C40.02 510.88 40.77 514.92 41 516.3M38.5 442.4L41.4 438.3" stroke="#ff2424" stroke-width="1.35" fill="none" stroke-linecap="round"/>
<text class="cl" x="116" y="514.8" text-anchor="middle" transform="rotate(40 116 511)">32</text>
<text class="cl" x="94.6" y="494.8" text-anchor="middle" transform="rotate(-80 94.6 491)">34</text>
<text class="cl" x="87" y="474.8" text-anchor="middle" transform="rotate(-55 87 471)">36</text>
<text class="cl" x="68.4" y="486.2" text-anchor="middle" transform="rotate(-80 68.4 482.4)">38</text>
<text class="cl" x="53.2" y="493.2" text-anchor="middle" transform="rotate(-88 53.2 489.4)">40</text>
<text class="cl" x="39.4" y="495.8" text-anchor="middle" transform="rotate(-90 39.4 492)">42</text>
</g>
<text x="45.04" y="530.4" text-anchor="middle" class="tl">−24</text>
<text x="72.96" y="530.4" text-anchor="middle" class="tl">−16</text>
<text x="100.88" y="530.4" text-anchor="middle" class="tl">−8</text>
<text x="128.8" y="530.4" text-anchor="middle" class="tl">0</text>
<text x="33.2" y="446.75" text-anchor="end" class="tl">−15</text>
<text x="33.2" y="464.1" text-anchor="end" class="tl">−10</text>
<text x="33.2" y="481.45" text-anchor="end" class="tl">−5</text>
<text x="33.2" y="498.8" text-anchor="end" class="tl">0</text>
<text x="33.2" y="516.15" text-anchor="end" class="tl">5</text>
<text x="87.1" y="430" text-anchor="middle" class="tt">Segment A</text>
<polygon points="129.1,491.1 129.98,493.49 132.52,493.59 130.53,495.16 131.22,497.61 129.1,496.2 126.98,497.61 127.67,495.16 125.68,493.59 128.22,493.49" fill="#fff" stroke="#000" stroke-width="1.35" stroke-linejoin="round"/>
<rect x="185.4" y="482" width="13.9" height="8.6" fill="#8a8a8a" fill-opacity="0.5"/>
<path d="M185.36 438.2V516.3M199.32 438.2V516.3M213.28 438.2V516.3M227.24 438.2V516.3M241.2 438.2V516.3M255.16 438.2V516.3M269.12 438.2V516.3M283.08 438.2V516.3M297.04 438.2V516.3M171.4 446.88H311M171.4 455.56H311M171.4 464.23H311M171.4 472.91H311M171.4 481.59H311M171.4 490.27H311M171.4 498.94H311M171.4 507.62H311" stroke="#8a8a8a" stroke-width="1" fill="none"/>
<path d="M171.4 446.88H311" stroke="#404040" stroke-width="1"/>
<path d="M171.4 464.23H311" stroke="#404040" stroke-width="1"/>
<path d="M171.4 481.59H240" stroke="#666" stroke-width="1"/>
<path d="M171.4 507.62H311" stroke="#404040" stroke-width="1"/>
<path d="M185.36 438.2V516.3" stroke="#404040" stroke-width="1"/>
<path d="M213.28 438.2V516.3" stroke="#777" stroke-width="1"/>
<path d="M241.2 438.2V516.3" stroke="#404040" stroke-width="1"/>
<path d="M269.12 438.2V516.3" stroke="#404040" stroke-width="1"/>
<path d="M283.08 438.2V516.3" stroke="#666" stroke-width="1"/>
<path d="M297.04 438.2V516.3" stroke="#666" stroke-width="1"/>
<path d="M178.38 438.2v-2M178.38 516.3v2M192.34 438.2v-3.2M192.34 516.3v3.2M206.3 438.2v-2M206.3 516.3v2M220.26 438.2v-3.2M220.26 516.3v3.2M234.22 438.2v-2M234.22 516.3v2M248.18 438.2v-3.2M248.18 516.3v3.2M262.14 438.2v-2M262.14 516.3v2M276.1 438.2v-3.2M276.1 516.3v3.2M290.06 438.2v-2M290.06 516.3v2M304.02 438.2v-3.2M304.02 516.3v3.2M171.4 442.54h-3.2M311 442.54h3.2M171.4 451.22h-2M311 451.22h2M171.4 459.89h-3.2M311 459.89h3.2M171.4 468.57h-2M311 468.57h2M171.4 477.25h-3.2M311 477.25h3.2M171.4 485.93h-2M311 485.93h2M171.4 494.61h-3.2M311 494.61h3.2M171.4 503.28h-2M311 503.28h2M171.4 511.96h-3.2M311 511.96h3.2" stroke="#555" stroke-width="0.8" fill="none"/>
<rect x="171.4" y="438.2" width="139.6" height="78.1" fill="none" stroke="#555" stroke-width="0.9"/>
<clipPath id="clipB280"><rect x="171.4" y="438.2" width="139.6" height="78.1"/></clipPath>
<g clip-path="url(#clipB280)">
<path d="M183 438.4C182.17 440.33 179.5 446.07 178 450C176.5 453.93 175.1 458.17 174 462C172.9 465.83 171.83 471.17 171.4 473M198 438.4C197.17 440.33 194.5 446.07 193 450C191.5 453.93 190.17 458 189 462C187.83 466 186.67 470.33 186 474C185.33 477.67 185.2 480.67 185 484C184.8 487.33 184.8 490.33 184.8 494C184.8 497.67 184.87 502.27 185 506C185.13 509.73 185.5 514.67 185.6 516.4M214 438.4C213 440.33 209.83 446.07 208 450C206.17 453.93 204.33 458 203 462C201.67 466 200.67 470.33 200 474C199.33 477.67 199.2 480.83 199 484C198.8 487.17 198.87 489.67 198.8 493C198.73 496.33 198.57 500.1 198.6 504C198.63 507.9 198.93 514.33 199 516.4M231 438.4C229.83 440.33 226.17 446.07 224 450C221.83 453.93 219.6 458 218 462C216.4 466 215.23 470.33 214.4 474C213.57 477.67 213.27 480.93 213 484C212.73 487.07 212.8 489.07 212.8 492.4C212.8 495.73 212.8 500 213 504C213.2 508 213.83 514.33 214 516.4M249 438.4C247.5 440.33 242.67 446.07 240 450C237.33 453.93 234.83 458.33 233 462C231.17 465.67 229.93 468.67 229 472C228.07 475.33 227.77 479 227.4 482C227.03 485 226.87 486.33 226.8 490C226.73 493.67 226.7 499.6 227 504C227.3 508.4 228.33 514.33 228.6 516.4M273.5 438.4C271.25 440 263.92 444.4 260 448C256.08 451.6 252.67 456 250 460C247.33 464 245.43 468 244 472C242.57 476 241.97 480 241.4 484C240.83 488 240.67 492 240.6 496C240.53 500 240.77 504.6 241 508C241.23 511.4 241.83 515 242 516.4M311 444C308.83 444.33 302.17 445 298 446C293.83 447 289.67 448.33 286 450C282.33 451.67 279.17 453.67 276 456C272.83 458.33 269.5 461.5 267 464C264.5 466.5 262.6 468.5 261 471C259.4 473.5 258.33 476.17 257.4 479C256.47 481.83 255.8 484.83 255.4 488C255 491.17 254.97 494.67 255 498C255.03 501.33 255.27 504.93 255.6 508C255.93 511.07 256.77 515 257 516.4M311 458C308.5 458.33 300.5 458.83 296 460C291.5 461.17 287.33 463 284 465C280.67 467 278.1 469.5 276 472C273.9 474.5 272.53 477.33 271.4 480C270.27 482.67 269.67 485.33 269.2 488C268.73 490.67 268.6 493.67 268.6 496C268.6 498.33 268.88 499.72 269.2 502C269.52 504.28 269.67 507.3 270.5 509.7C271.33 512.1 273.58 515.28 274.2 516.4M311 471C309.17 471.33 303.5 471.77 300 473C296.5 474.23 292.5 476.5 290 478.4C287.5 480.3 286.27 482.37 285 484.4C283.73 486.43 282.93 488.67 282.4 490.6C281.87 492.53 281.77 494.03 281.8 496C281.83 497.97 281.97 500.3 282.6 502.4C283.23 504.5 284.3 506.87 285.6 508.6C286.9 510.33 288.67 511.67 290.4 512.8C292.13 513.93 294.07 514.8 296 515.4C297.93 516 301 516.23 302 516.4M311 483C309.83 483.43 305.93 484.53 304 485.6C302.07 486.67 300.5 487.9 299.4 489.4C298.3 490.9 297.57 492.93 297.4 494.6C297.23 496.27 297.57 497.9 298.4 499.4C299.23 500.9 300.3 502.33 302.4 503.6C304.5 504.87 309.57 506.43 311 507" stroke="#ff2424" stroke-width="1.35" fill="none" stroke-linecap="round"/>
<text class="cl" x="185" y="497.8" text-anchor="middle" transform="rotate(-90 185 494)">30</text>
<text class="cl" x="199.4" y="496.8" text-anchor="middle" transform="rotate(-85 199.4 493)">28</text>
<text class="cl" x="213" y="496.2" text-anchor="middle" transform="rotate(-85 213 492.4)">26</text>
<text class="cl" x="226.6" y="493.8" text-anchor="middle" transform="rotate(-85 226.6 490)">24</text>
<text class="cl" x="242" y="487.8" text-anchor="middle" transform="rotate(-80 242 484)">22</text>
<text class="cl" x="261.6" y="472.6" text-anchor="middle" transform="rotate(-58 261.6 468.8)">20</text>
<text class="cl" x="269.8" y="492.1" text-anchor="middle" transform="rotate(-78 269.8 488.3)">18</text>
<text class="cl" x="287.4" y="513.8" text-anchor="middle" transform="rotate(62 287.4 510)">16</text>
</g>
<text x="192.32" y="530.4" text-anchor="middle" class="tl">−32</text>
<text x="220.24" y="530.4" text-anchor="middle" class="tl">−24</text>
<text x="248.16" y="530.4" text-anchor="middle" class="tl">−16</text>
<text x="276.08" y="530.4" text-anchor="middle" class="tl">−8</text>
<text x="304" y="530.4" text-anchor="middle" class="tl">0</text>
<text x="166.2" y="446.75" text-anchor="end" class="tl">−15</text>
<text x="166.2" y="464.1" text-anchor="end" class="tl">−10</text>
<text x="166.2" y="481.45" text-anchor="end" class="tl">−5</text>
<text x="166.2" y="498.8" text-anchor="end" class="tl">0</text>
<text x="166.2" y="516.15" text-anchor="end" class="tl">5</text>
<text x="241.2" y="417" text-anchor="middle" class="tt">Segment B</text>
<text x="241" y="426.3" text-anchor="middle" class="st">ISK003</text>
<path d="M236.2 428.6h9.6l-4.8 8.1z" fill="#000"/>
<polygon points="304.2,491.3 305.08,493.69 307.62,493.79 305.63,495.36 306.32,497.81 304.2,496.4 302.08,497.81 302.77,495.36 300.78,493.79 303.32,493.69" fill="#fff" stroke="#000" stroke-width="1.35" stroke-linejoin="round"/>
<rect x="346" y="490.3" width="13.9" height="8.7" fill="#8a8a8a" fill-opacity="0.5"/>
<rect x="373.8" y="490.3" width="13.8" height="8.7" fill="#8a8a8a" fill-opacity="0.5"/><polygon points="380.5,489.4 381.85,493.24 385.92,493.34 382.69,495.81 383.85,499.71 380.5,497.4 377.15,499.71 378.31,495.81 375.08,493.34 379.15,493.24" fill="none" stroke="#1e9a1e" stroke-width="1.3" stroke-linejoin="round"/>
<path d="M359.87 438.2V516.3M373.73 438.2V516.3M346 446.88H387.6M346 455.56H387.6M346 464.23H387.6M346 472.91H387.6M346 481.59H387.6M346 490.27H387.6M346 498.94H387.6M346 507.62H387.6" stroke="#8a8a8a" stroke-width="1" fill="none"/>
<path d="M359.87 438.2V516.3" stroke="#404040" stroke-width="1"/>
<path d="M373.73 438.2V516.3" stroke="#404040" stroke-width="1"/>
<path d="M346 446.88H387.6" stroke="#404040" stroke-width="1"/>
<path d="M346 464.23H387.6" stroke="#404040" stroke-width="1"/>
<path d="M346 507.62H360" stroke="#404040" stroke-width="1"/>
<path d="M352.93 438.2v-3.2M352.93 516.3v3.2M366.8 438.2v-2M366.8 516.3v2M380.67 438.2v-3.2M380.67 516.3v3.2M346 442.54h-3.2M387.6 442.54h3.2M346 451.22h-2M387.6 451.22h2M346 459.89h-3.2M387.6 459.89h3.2M346 468.57h-2M387.6 468.57h2M346 477.25h-3.2M387.6 477.25h3.2M346 485.93h-2M387.6 485.93h2M346 494.61h-3.2M387.6 494.61h3.2M346 503.28h-2M387.6 503.28h2M346 511.96h-3.2M387.6 511.96h3.2" stroke="#555" stroke-width="0.8" fill="none"/>
<rect x="346" y="438.2" width="41.6" height="78.1" fill="none" stroke="#555" stroke-width="0.9"/>
<clipPath id="clipC2280"><rect x="346" y="438.2" width="41.6" height="78.1"/></clipPath>
<g clip-path="url(#clipC2280)">
<path d="M346 442.4C346.5 442.07 347.83 441.07 349 440.4C350.17 439.73 352.33 438.73 353 438.4M346 460C347.33 459 351 455.73 354 454C357 452.27 360.33 450.8 364 449.6C367.67 448.4 372.07 447.4 376 446.8C379.93 446.2 385.67 446.13 387.6 446M346 482C346.67 480.5 348.17 475.67 350 473C351.83 470.33 354.33 467.83 357 466C359.67 464.17 362.67 463 366 462C369.33 461 373.4 460.43 377 460C380.6 459.57 385.83 459.5 387.6 459.4M346 504C346.33 505 347.08 507.93 348 510C348.92 512.07 350.92 515.33 351.5 516.4M387.6 474.8C385.67 475.1 379.43 475.57 376 476.6C372.57 477.63 369.37 479.1 367 481C364.63 482.9 362.93 485.43 361.8 488C360.67 490.57 360.27 493.83 360.2 496.4C360.13 498.97 360.6 501.22 361.4 503.4C362.2 505.58 363.23 507.67 365 509.5C366.77 511.33 369.5 513.25 372 514.4C374.5 515.55 378.67 516.07 380 516.4M387.6 484C386.43 484.43 382.53 485.6 380.6 486.6C378.67 487.6 377.03 488.7 376 490C374.97 491.3 374.4 492.9 374.4 494.4C374.4 495.9 374.97 497.67 376 499C377.03 500.33 378.67 501.37 380.6 502.4C382.53 503.43 386.43 504.73 387.6 505.2" stroke="#ff2424" stroke-width="1.35" fill="none" stroke-linecap="round"/>
<text class="cl" x="367.4" y="514.8" text-anchor="middle" transform="rotate(50 367.4 511)">10</text>
</g>
<text x="352.68" y="530.4" text-anchor="middle" class="tl">−8</text>
<text x="380.6" y="530.4" text-anchor="middle" class="tl">0</text>
<text x="340.8" y="446.75" text-anchor="end" class="tl">−15</text>
<text x="340.8" y="464.1" text-anchor="end" class="tl">−10</text>
<text x="340.8" y="481.45" text-anchor="end" class="tl">−5</text>
<text x="340.8" y="498.8" text-anchor="end" class="tl">0</text>
<text x="340.8" y="516.15" text-anchor="end" class="tl">5</text>
<text x="366.8" y="417" text-anchor="middle" class="tt">Segment C (2nd)</text>
<text x="366.6" y="426.3" text-anchor="middle" class="st">ISK001</text>
<path d="M362.2 428.6h9.6l-4.8 8.1z" fill="#000"/>

<rect x="506.1" y="490.3" width="13.9" height="8.7" fill="#8a8a8a" fill-opacity="0.5"/><polygon points="429.6,489.2 430.95,493.04 435.02,493.14 431.79,495.61 432.95,499.51 429.6,497.2 426.25,499.51 427.41,495.61 424.18,493.14 428.25,493.04" fill="#fff" stroke="#1e9a1e" stroke-width="1.3" stroke-linejoin="round"/>
<path d="M436.34 438.2V516.3M450.29 438.2V516.3M464.23 438.2V516.3M478.17 438.2V516.3M492.11 438.2V516.3M506.06 438.2V516.3M422.4 446.88H520M422.4 455.56H520M422.4 464.23H520M422.4 472.91H520M422.4 481.59H520M422.4 490.27H520M422.4 498.94H520M422.4 507.62H520" stroke="#8a8a8a" stroke-width="1" fill="none"/>
<path d="M422.4 446.88H520" stroke="#404040" stroke-width="1"/>
<path d="M422.4 464.23H520" stroke="#404040" stroke-width="1"/>
<path d="M422.4 507.62H520" stroke="#404040" stroke-width="1"/>
<path d="M436.34 438.2V516.3" stroke="#404040" stroke-width="1"/>
<path d="M450.29 438.2V516.3" stroke="#404040" stroke-width="1"/>
<path d="M464.23 438.2V516.3" stroke="#777" stroke-width="1"/>
<path d="M478.17 438.2V516.3" stroke="#777" stroke-width="1"/>
<path d="M429.37 438.2v-3.2M429.37 516.3v3.2M443.31 438.2v-2M443.31 516.3v2M457.26 438.2v-3.2M457.26 516.3v3.2M471.2 438.2v-2M471.2 516.3v2M485.14 438.2v-3.2M485.14 516.3v3.2M499.09 438.2v-2M499.09 516.3v2M513.03 438.2v-3.2M513.03 516.3v3.2M422.4 442.54h-3.2M520 442.54h3.2M422.4 451.22h-2M520 451.22h2M422.4 459.89h-3.2M520 459.89h3.2M422.4 468.57h-2M520 468.57h2M422.4 477.25h-3.2M520 477.25h3.2M422.4 485.93h-2M520 485.93h2M422.4 494.61h-3.2M520 494.61h3.2M422.4 503.28h-2M520 503.28h2M422.4 511.96h-3.2M520 511.96h3.2" stroke="#555" stroke-width="0.8" fill="none"/>
<rect x="422.4" y="438.2" width="97.6" height="78.1" fill="none" stroke="#555" stroke-width="0.9"/>
<clipPath id="clipD280"><rect x="422.4" y="438.2" width="97.6" height="78.1"/></clipPath>
<g clip-path="url(#clipD280)">
<path d="M422.4 483.4C423.67 483.9 427.97 485.23 430 486.4C432.03 487.57 433.53 489.1 434.6 490.4C435.67 491.7 436.4 492.87 436.4 494.2C436.4 495.53 435.67 497.03 434.6 498.4C433.53 499.77 432.03 501.07 430 502.4C427.97 503.73 423.67 505.73 422.4 506.4M422.4 472C423.67 472.47 427.23 473.73 430 474.8C432.77 475.87 436.27 477.2 439 478.4C441.73 479.6 444.62 480.5 446.4 482C448.18 483.5 448.93 485.4 449.7 487.4C450.47 489.4 450.93 491.67 451 494C451.07 496.33 450.73 499.2 450.1 501.4C449.47 503.6 448.5 505.55 447.2 507.2C445.9 508.85 444.35 510.13 442.3 511.3C440.25 512.47 437.52 513.37 434.9 514.2C432.28 515.03 429.08 515.75 426.6 516.3C424.12 516.85 421.1 517.3 420 517.5M422.4 459C424.33 459.33 429.9 459.83 434 461C438.1 462.17 443.5 464.25 447 466C450.5 467.75 452.93 469.67 455 471.5C457.07 473.33 458.08 474.77 459.4 477C460.72 479.23 462.12 482.2 462.9 484.9C463.68 487.6 464.1 489.9 464.1 493.2C464.1 496.5 463.52 501.68 462.9 504.7C462.28 507.72 461.3 509.32 460.4 511.3C459.5 513.28 457.98 515.72 457.5 516.6M422.4 445C424.83 445.27 432.48 445.67 437 446.6C441.52 447.53 445.97 449.15 449.5 450.6C453.03 452.05 455.7 453.33 458.2 455.3C460.7 457.27 462.43 460.2 464.5 462.4C466.57 464.6 468.8 466.05 470.6 468.5C472.4 470.95 474.05 473.85 475.3 477.1C476.55 480.35 477.58 484.62 478.1 488C478.62 491.38 478.62 494.02 478.4 497.4C478.18 500.78 477.45 505.1 476.8 508.3C476.15 511.5 474.88 515.22 474.5 516.6M455 437.3C456.57 438.48 461.28 441.4 464.4 444.4C467.52 447.4 470.58 451.67 473.7 455.3C476.82 458.93 480.75 463.08 483.1 466.2C485.45 469.32 486.63 471.4 487.8 474C488.97 476.6 489.45 479.2 490.1 481.8C490.75 484.4 491.32 486.48 491.7 489.6C492.08 492.72 492.4 497.12 492.4 500.5C492.4 503.88 492.08 507.22 491.7 509.9C491.32 512.58 490.37 515.48 490.1 516.6M481.5 437.8C483.07 439.42 488.03 443.8 490.9 447.5C493.77 451.2 496.62 455.85 498.7 460C500.78 464.15 502.37 467.47 503.4 472.4C504.43 477.33 504.52 484.92 504.9 489.6C505.28 494.28 505.7 497.12 505.7 500.5C505.7 503.88 505.28 507.17 504.9 509.9C504.52 512.63 503.65 515.73 503.4 516.9M500.2 437.8C501.5 439.42 505.65 443.8 508 447.5C510.35 451.2 512.6 455.85 514.3 460C516 464.15 517.45 467.2 518.2 472.4C518.95 477.6 518.63 486 518.8 491.2C518.97 496.4 519.13 499.37 519.2 503.6C519.27 507.83 519.2 514.43 519.2 516.6M518.2 438.1L520.5 442.8" stroke="#ff2424" stroke-width="1.35" fill="none" stroke-linecap="round"/>
<text class="cl" x="440.2" y="482.1" text-anchor="middle" transform="rotate(25 440.2 478.3)">18</text>
<text class="cl" x="448" y="469.8" text-anchor="middle" transform="rotate(35 448 466)">20</text>
<text class="cl" x="464.4" y="466.4" text-anchor="middle" transform="rotate(58 464.4 462.6)">22</text>
<text class="cl" x="490.1" y="485.6" text-anchor="middle" transform="rotate(80 490.1 481.8)">24</text>
<text class="cl" x="504.9" y="493.4" text-anchor="middle" transform="rotate(82 504.9 489.6)">26</text>
<text class="cl" x="518.4" y="495" text-anchor="middle" transform="rotate(85 518.4 491.2)">28</text>
</g>
<text x="429.4" y="530.4" text-anchor="middle" class="tl">0</text>
<text x="457.32" y="530.4" text-anchor="middle" class="tl">8</text>
<text x="485.24" y="530.4" text-anchor="middle" class="tl">16</text>
<text x="513.16" y="530.4" text-anchor="middle" class="tl">24</text>
<text x="417.2" y="446.75" text-anchor="end" class="tl">−15</text>
<text x="417.2" y="464.1" text-anchor="end" class="tl">−10</text>
<text x="417.2" y="481.45" text-anchor="end" class="tl">−5</text>
<text x="417.2" y="498.8" text-anchor="end" class="tl">0</text>
<text x="417.2" y="516.15" text-anchor="end" class="tl">5</text>
<text x="471.2" y="417" text-anchor="middle" class="tt">Segment D</text>
<text x="438" y="426.3" text-anchor="middle" class="st">ISKH01</text>
<path d="M429.2 428.6h9.6l-4.8 8.1z" fill="#000"/>


<path d="M569.24 438V516M583.09 438V516M596.93 438V516M610.78 438V516M624.62 438V516M638.47 438V516M652.31 438V516M666.16 438V516M555.4 446.67H680M555.4 455.33H680M555.4 464H680M555.4 472.67H680M555.4 481.33H680M555.4 490H680M555.4 498.67H680M555.4 507.33H680" stroke="#8a8a8a" stroke-width="1" fill="none"/>
<path d="M555.4 455.33H680" stroke="#404040" stroke-width="1"/>
<path d="M555.4 472.67H680" stroke="#404040" stroke-width="1"/>
<path d="M555.4 498.67H614" stroke="#404040" stroke-width="1"/>
<path d="M652.31 438V516" stroke="#404040" stroke-width="1"/>
<path d="M562.32 438v-3.2M562.32 516v3.2M576.17 438v-2M576.17 516v2M590.01 438v-3.2M590.01 516v3.2M603.86 438v-2M603.86 516v2M617.7 438v-3.2M617.7 516v3.2M631.54 438v-2M631.54 516v2M645.39 438v-3.2M645.39 516v3.2M659.23 438v-2M659.23 516v2M673.08 438v-3.2M673.08 516v3.2M555.4 442.33h-3.2M680 442.33h3.2M555.4 451h-2M680 451h2M555.4 459.67h-3.2M680 459.67h3.2M555.4 468.33h-2M680 468.33h2M555.4 477h-3.2M680 477h3.2M555.4 485.67h-2M680 485.67h2M555.4 494.33h-3.2M680 494.33h3.2M555.4 503h-2M680 503h2M555.4 511.67h-3.2M680 511.67h3.2" stroke="#555" stroke-width="0.8" fill="none"/>
<rect x="555.4" y="438" width="124.6" height="78" fill="none" stroke="#555" stroke-width="0.9"/>
<clipPath id="clipF0"><rect x="555.4" y="438" width="124.6" height="78"/></clipPath>
<g clip-path="url(#clipF0)">
<path d="M555.4 467C556.4 467.47 559.67 468.73 561.4 469.8C563.13 470.87 564.77 472.2 565.8 473.4C566.83 474.6 567.53 475.8 567.6 477C567.67 478.2 567.23 479.37 566.2 480.6C565.17 481.83 563.2 483.25 561.4 484.4C559.6 485.55 556.4 486.98 555.4 487.5M555.4 454.5C556.5 454.85 559.23 455.42 562 456.6C564.77 457.78 569.17 459.87 572 461.6C574.83 463.33 577.42 464.93 579 467C580.58 469.07 581.13 471.5 581.5 474C581.87 476.5 581.72 479.5 581.2 482C580.68 484.5 579.77 487.07 578.4 489C577.03 490.93 574.93 492.5 573 493.6C571.07 494.7 568.97 494.93 566.8 495.6C564.63 496.27 561.9 496.93 560 497.6C558.1 498.27 556.17 499.27 555.4 499.6M555.4 442.4C555.95 442.45 556.97 442.33 558.7 442.7C560.43 443.07 562.78 443.68 565.8 444.6C568.82 445.52 573.43 446.37 576.8 448.2C580.17 450.03 583.5 452.8 586 455.6C588.5 458.4 590.37 462.17 591.8 465C593.23 467.83 594 470.27 594.6 472.6C595.2 474.93 595.57 476.53 595.4 479C595.23 481.47 594.55 484.5 593.6 487.4C592.65 490.3 591.63 493.7 589.7 496.4C587.77 499.1 584.95 501.7 582 503.6C579.05 505.5 575.33 506.6 572 507.8C568.67 509 564.77 509.98 562 510.8C559.23 511.62 556.5 512.38 555.4 512.7M589.4 438C590.72 439.17 594.77 442 597.3 445C599.83 448 602.72 452.05 604.6 456C606.48 459.95 607.77 464.75 608.6 468.7C609.43 472.65 609.77 476.28 609.6 479.7C609.43 483.12 608.5 486.22 607.6 489.2C606.7 492.18 605.97 494.68 604.2 497.6C602.43 500.52 599.5 503.58 597 506.7C594.5 509.82 590.5 514.7 589.2 516.3M610 438C611.27 440 615.63 445.67 617.6 450C619.57 454.33 620.83 459.33 621.8 464C622.77 468.67 623.37 473.33 623.4 478C623.43 482.67 622.97 487.5 622 492C621.03 496.5 619.43 500.95 617.6 505C615.77 509.05 612.1 514.42 611 516.3M626 438C627 440 630.33 445.67 632 450C633.67 454.33 635.07 459.33 636 464C636.93 468.67 637.6 473 637.6 478C637.6 483 636.68 489.95 636 494C635.32 498.05 634.57 499.63 633.5 502.3C632.43 504.97 630.72 507.67 629.6 510C628.48 512.33 627.27 515.25 626.8 516.3M642 438C642.83 440.33 645.6 447.33 647 452C648.4 456.67 649.63 461.33 650.4 466C651.17 470.67 651.67 475.33 651.6 480C651.53 484.67 650.7 490.28 650 494C649.3 497.72 648.4 499.63 647.4 502.3C646.4 504.97 645 507.67 644 510C643 512.33 641.83 515.25 641.4 516.3M657 438C657.67 440.33 659.83 447.33 661 452C662.17 456.67 663.33 461.33 664 466C664.67 470.67 665.07 475.33 665 480C664.93 484.67 664.35 490.28 663.6 494C662.85 497.72 661.37 499.63 660.5 502.3C659.63 504.97 659.05 507.67 658.4 510C657.75 512.33 656.9 515.25 656.6 516.3M673 438C673.67 440.33 676 447.33 677 452C678 456.67 678.5 461.33 679 466C679.5 470.67 680.17 475.33 680 480C679.83 484.67 678.95 490.28 678 494C677.05 497.72 675.13 499.63 674.3 502.3C673.47 504.97 673.38 507.67 673 510C672.62 512.33 672.17 515.25 672 516.3" stroke="#ff2424" stroke-width="1.35" fill="none" stroke-linecap="round"/>
<text class="cl" x="558.9" y="446.7" text-anchor="middle" transform="rotate(15 558.9 442.9)">34</text>
<text class="cl" x="572" y="465.4" text-anchor="middle" transform="rotate(35 572 461.6)">32</text>
<text class="cl" x="595.6" y="482.8" text-anchor="middle" transform="rotate(-88 595.6 479)">34</text>
<text class="cl" x="607.6" y="493" text-anchor="middle" transform="rotate(-75 607.6 489.2)">36</text>
<text class="cl" x="622" y="497" text-anchor="middle" transform="rotate(-80 622 493.2)">38</text>
<text class="cl" x="635.8" y="498" text-anchor="middle" transform="rotate(-82 635.8 494.2)">40</text>
<text class="cl" x="649.7" y="499.2" text-anchor="middle" transform="rotate(-85 649.7 495.4)">42</text>
<text class="cl" x="663.6" y="499.2" text-anchor="middle" transform="rotate(-85 663.6 495.4)">44</text>
<text class="cl" x="677" y="499.2" text-anchor="middle" transform="rotate(-86 677 495.4)">46</text>
</g>
<text x="561.6" y="530.1" text-anchor="middle" class="tl">0</text>
<text x="589.52" y="530.1" text-anchor="middle" class="tl">8</text>
<text x="617.44" y="530.1" text-anchor="middle" class="tl">16</text>
<text x="645.36" y="530.1" text-anchor="middle" class="tl">24</text>
<text x="673.28" y="530.1" text-anchor="middle" class="tl">32</text>
<text x="550.2" y="446.5" text-anchor="end" class="tl">−10</text>
<text x="550.2" y="463.85" text-anchor="end" class="tl">−5</text>
<text x="550.2" y="481.2" text-anchor="end" class="tl">0</text>
<text x="550.2" y="498.55" text-anchor="end" class="tl">5</text>
<text x="550.2" y="515.9" text-anchor="end" class="tl">10</text>
<text x="617.7" y="430" text-anchor="middle" class="tt">Segment F [NW]</text>
<polygon points="561.6,473.7 562.48,476.09 565.02,476.19 563.03,477.76 563.72,480.21 561.6,478.8 559.48,480.21 560.17,477.76 558.18,476.19 560.72,476.09" fill="#fff" stroke="#000" stroke-width="1.35" stroke-linejoin="round"/>
<path d="M514 215.8L551 208.3" stroke="#8f8f8f" stroke-width="2.3" stroke-dasharray="2.2 1.6" fill="none"/>
<path d="M560 206.6L550.8 203.2L552.4 208.8L552.4 214.2Z" fill="#8f8f8f"/>
<path d="M515.2 493L550 482" stroke="#8f8f8f" stroke-width="2.3" stroke-dasharray="2.2 1.6" fill="none"/>
<path d="M558.8 477.2L548.6 477.4L551.6 481.4L551 486.6Z" fill="#8f8f8f"/>
<text x="368" y="263" text-anchor="middle" class="ax" style="font-size:12.2px">Along Strike (km)</text>
<text transform="translate(10.3 197.3) rotate(-90)" text-anchor="middle" class="ax">Along Dip (km)</text>
<text transform="translate(317.6 68.6) rotate(-90)" text-anchor="middle" class="ax">Along Dip (km)</text>
<text x="368" y="543" text-anchor="middle" class="ax" style="font-size:12.2px">Along Strike (km)</text>
<text transform="translate(10.3 477.3) rotate(-90)" text-anchor="middle" class="ax">Along Dip (km)</text>
<text transform="translate(317.6 348.6) rotate(-90)" text-anchor="middle" class="ax">Along Dip (km)</text>
<text x="64.5" y="68" class="case" style="fill:#0000ff">Case #1</text>
<text x="64.5" y="348.8" class="case" style="fill:#ff0000">Case #2</text>
</svg>
</body></html>
